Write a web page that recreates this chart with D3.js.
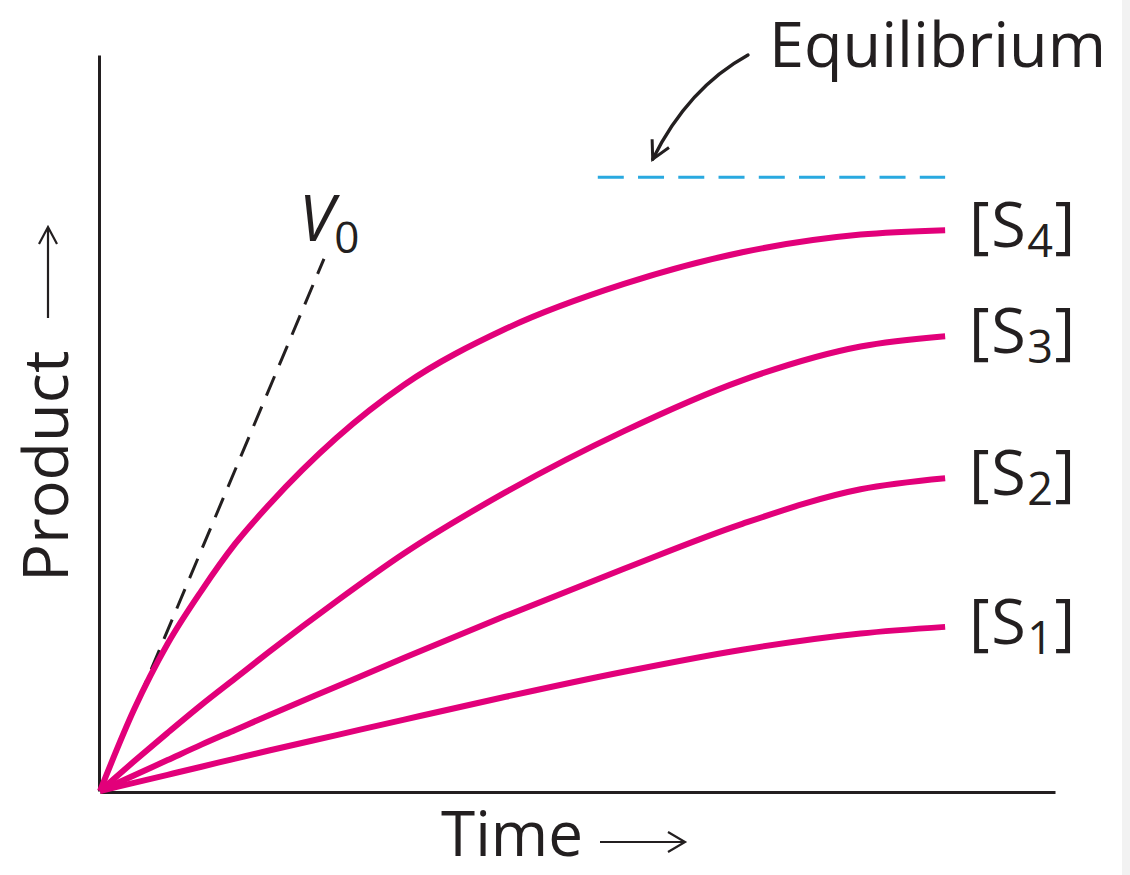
<!DOCTYPE html>
<html>
<head>
<meta charset="utf-8">
<script src="https://cdnjs.cloudflare.com/ajax/libs/d3/7.8.5/d3.min.js"></script>
<style>
    body { margin: 0; background: #fff; }
    svg text { font-family: "Open Sans", sans-serif; fill: #231f20; }
</style>
</head>
<body>
<div class="chart"></div>
<script>
// time points (arbitrary units) shared by every progress curve
const times = [0, 0.4, 0.8, 1.2, 1.6, 2.0, 2.8, 3.6, 4.8, 6.2, 7.6, 9.0, 10.0];

// product formed at each time point, one array per substrate concentration
const productS1 = [0, 1.1, 2.2, 3.3, 4.4, 5.5, 7.6, 9.7, 12.8, 16.2, 19.2, 21.4, 22.3];
const productS2 = [0, 2.1, 4.2, 6.3, 8.3, 10.3, 14.2, 18.1, 23.8, 30.2, 36.3, 41.0, 42.5];
const productS3 = [0, 4.0, 7.9, 11.7, 15.3, 18.9, 25.8, 32.3, 40.6, 48.9, 55.8, 60.4, 61.8];
const productS4 = [0, 11.0, 20.0, 27.2, 33.6, 38.9, 48.0, 55.2, 62.8, 68.9, 73.2, 75.6, 76.2];

const subscripts = ["1", "2", "3", "4"];

// initial velocity tangent and equilibrium level
const v0Times = [0, 2.65];
const v0Product = [0, 72.3];
const equilibriumTimes = [5.89, 10];
const equilibriumLevel = 83.4;

const width = 1130;
const height = 875;
const ink = "#231f20";
const magenta = "#e2007a";

function progressChart(selector) {
    const svg = d3.select(selector)
        .append('svg')
        .attr('width', width)
        .attr('height', height);

    // light strip along the right edge of the scan
    svg.append('rect')
        .attr('x', 1122).attr('y', 0)
        .attr('width', width - 1122).attr('height', height)
        .attr('fill', '#f2f2f2');

    const x = d3.scaleLinear().domain([0, 11.3]).range([100, 1055]);
    const y = d3.scaleLinear().domain([0, 100]).range([791, 55]);

    // bare axes, no ticks
    const xAxis = svg.append('g')
        .attr('transform', `translate(0,${y(0) + 1})`)
        .call(d3.axisBottom(x).ticks(0).tickSizeOuter(0));
    const yAxis = svg.append('g')
        .attr('transform', `translate(${x(0) - 1},0)`)
        .call(d3.axisLeft(y).ticks(0).tickSizeOuter(0));
    [xAxis, yAxis].forEach(a => a.select('.domain')
        .attr('stroke', ink)
        .attr('stroke-width', 3));

    // equilibrium level
    svg.append('line')
        .attr('x1', x(equilibriumTimes[0]))
        .attr('x2', x(equilibriumTimes[1]))
        .attr('y1', y(equilibriumLevel))
        .attr('y2', y(equilibriumLevel))
        .attr('stroke', '#29a9e0')
        .attr('stroke-width', 3)
        .attr('stroke-dasharray', '26,14.25');

    // V0 tangent
    svg.append('line')
        .attr('x1', x(v0Times[0])).attr('y1', y(v0Product[0]))
        .attr('x2', x(v0Times[1])).attr('y2', y(v0Product[1]))
        .attr('stroke', ink)
        .attr('stroke-width', 3)
        .attr('stroke-dasharray', '21,12');

    // progress curves
    const series = [productS1, productS2, productS3, productS4];
    const line = d3.line()
        .x((d, i) => x(times[i]))
        .y(d => y(d))
        .curve(d3.curveMonotoneX);

    svg.selectAll('.curve')
        .data(series)
        .enter()
        .append('path')
        .classed('curve', true)
        .attr('d', line)
        .attr('fill', 'none')
        .attr('stroke', magenta)
        .attr('stroke-width', 6);

    // [S_n] labels at the end of each curve
    const labels = svg.selectAll('.slabel')
        .data(series)
        .enter()
        .append('text')
        .classed('slabel', true)
        .attr('x', 969)
        .attr('y', d => y(d[d.length - 1]) + 17)
        .attr('font-size', 63)
        .attr('letter-spacing', 1.5);
    labels.append('tspan').text('[');
    labels.append('tspan').text('S');
    labels.append('tspan')
        .attr('font-size', 45)
        .attr('dy', 10)
        .text((d, i) => subscripts[i]);
    labels.append('tspan')
        .attr('dy', -10)
        .text(']');

    // V0 label
    const v0 = svg.append('text')
        .attr('x', x(v0Times[1]) - 25)
        .attr('y', y(v0Product[1]) - 18)
        .attr('font-size', 64);
    v0.append('tspan').attr('font-style', 'italic').text('V');
    v0.append('tspan')
        .attr('font-size', 44)
        .attr('dy', 12)
        .text('0');

    // Equilibrium label and curved arrow
    svg.append('text')
        .attr('x', 769)
        .attr('y', 67)
        .attr('font-size', 63)
        .text('Equilibrium');

    const tip = [x(6.54), y(equilibriumLevel) - 18];
    const ctrl = [688, 88];
    svg.append('path')
        .attr('d', `M748,55Q${ctrl[0]},${ctrl[1]} ${tip[0]},${tip[1]}`)
        .attr('fill', 'none')
        .attr('stroke', ink)
        .attr('stroke-width', 3.4)
        .attr('stroke-linecap', 'round');

    // arrowhead arms along the curve's end direction
    const ang = Math.atan2(ctrl[1] - tip[1], ctrl[0] - tip[0]);
    const arm = a => [tip[0] + 20 * Math.cos(ang + a), tip[1] + 20 * Math.sin(ang + a)];
    const a1 = arm(0.49), a2 = arm(-0.49);
    svg.append('path')
        .attr('d', `M${a1[0]},${a1[1]}L${tip[0]},${tip[1]}L${a2[0]},${a2[1]}`)
        .attr('fill', 'none')
        .attr('stroke', ink)
        .attr('stroke-width', 3)
        .attr('stroke-linejoin', 'miter');

    // axis titles with arrows
    svg.append('text')
        .attr('x', 441)
        .attr('y', 856)
        .attr('font-size', 62)
        .text('Time');
    svg.append('path')
        .attr('d', 'M600,842H684M668,832L685,842L668,852')
        .attr('fill', 'none')
        .attr('stroke', ink)
        .attr('stroke-width', 2.2);

    svg.append('text')
        .attr('transform', 'translate(68,582) rotate(-90)')
        .attr('font-size', 63)
        .text('Product');
    svg.append('path')
        .attr('d', 'M48,318V228M39,244L48,227L57,244')
        .attr('fill', 'none')
        .attr('stroke', ink)
        .attr('stroke-width', 2.2);
}

progressChart('.chart');
</script>
</body>
</html>
